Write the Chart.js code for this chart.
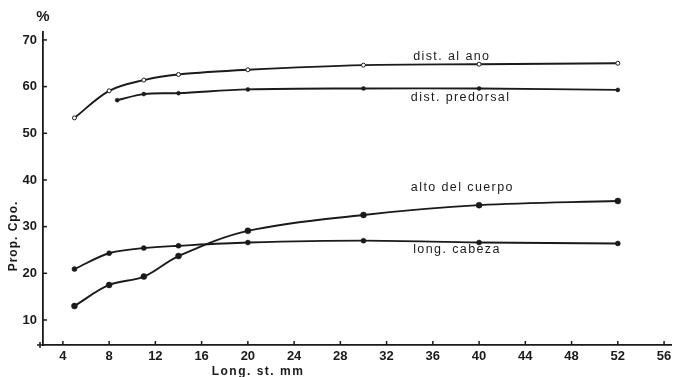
<!DOCTYPE html>
<html>
<head>
<meta charset="utf-8">
<script src="https://cdn.jsdelivr.net/npm/chart.js@4/dist/chart.umd.min.js"></script>
<style>
  html, body { margin: 0; padding: 0; background: #fff; }
  #wrap { width: 676px; height: 377px; }
</style>
</head>
<body>
<div id="wrap"><canvas id="propChart" width="676" height="377"></canvas></div>
<script>
// Longitud estandar (mm) de cada muestra
var longSt = [5, 8, 11, 14, 20, 30, 40, 52];
var longStPredorsal = [8.7, 11, 14, 20, 30, 40, 52];

// Proporciones del cuerpo (%)
var distAlAno = [53.3, 59.1, 61.4, 62.6, 63.6, 64.6, 64.8, 65.0];
var distPredorsal = [57.1, 58.4, 58.6, 59.4, 59.6, 59.6, 59.3];
var altoDelCuerpo = [13.0, 17.5, 19.3, 23.7, 29.1, 32.5, 34.6, 35.5];
var longCabeza = [20.9, 24.3, 25.4, 25.9, 26.6, 27.0, 26.6, 26.4];

var xTicks = [4, 8, 12, 16, 20, 24, 28, 32, 36, 40, 44, 48, 52, 56];
var yTicks = [10, 20, 30, 40, 50, 60, 70];

// etiquetas de las curvas: [texto, x, y] en unidades de datos
var curveLabels = [
  ['dist. al ano', 34.3, 66.4],
  ['dist. predorsal', 34.1, 57.6],
  ['alto del cuerpo', 34.1, 38.3],
  ['long. cabeza', 34.3, 25.0]
];

function toPoints(xs, ys) {
  return xs.map(function(x, i) { return { x: x, y: ys[i] }; });
}

var ink = '#1a1a1a';

function series(label, xs, ys, radius, hollow) {
  return {
    label: label,
    data: toPoints(xs, ys),
    showLine: true,
    borderColor: ink,
    borderWidth: 1.9,
    tension: 0.35,
    pointRadius: radius,
    pointBackgroundColor: hollow ? '#fff' : ink,
    pointBorderColor: ink,
    pointBorderWidth: hollow ? 1 : 0.5
  };
}

// dibuja ticks hacia adentro, textos de ejes y etiquetas de curvas
var annotations = {
  id: 'annotations',
  afterDraw: function(chart) {
    var ctx = chart.ctx;
    var xs = chart.scales.x, ys = chart.scales.y;
    var area = chart.chartArea;
    ctx.save();
    ctx.strokeStyle = ink;
    ctx.lineWidth = 1.5;
    xTicks.forEach(function(t) {
      var px = xs.getPixelForValue(t);
      ctx.beginPath();
      ctx.moveTo(px, area.bottom);
      ctx.lineTo(px, area.bottom - 4);
      ctx.stroke();
    });
    yTicks.forEach(function(t) {
      var py = ys.getPixelForValue(t);
      ctx.beginPath();
      ctx.moveTo(area.left, py);
      ctx.lineTo(area.left + 4, py);
      ctx.stroke();
    });
    // pequeña cruz a la izquierda del eje x
    ctx.beginPath();
    ctx.moveTo(area.left - 6, area.bottom);
    ctx.lineTo(area.left, area.bottom);
    ctx.moveTo(area.left - 3, area.bottom - 3);
    ctx.lineTo(area.left - 3, area.bottom + 3);
    ctx.stroke();

    ctx.fillStyle = ink;
    ctx.textBaseline = 'middle';
    ctx.textAlign = 'left';
    ctx.font = '12.5px "Liberation Sans", Arial, sans-serif';
    ctx.letterSpacing = '1.4px';
    curveLabels.forEach(function(l) {
      ctx.fillText(l[0], xs.getPixelForValue(l[1]), ys.getPixelForValue(l[2]));
    });

    ctx.font = 'bold 12px "Liberation Sans", Arial, sans-serif';
    ctx.letterSpacing = '1.5px';
    ctx.textAlign = 'center';
    ctx.fillText('Long. st. mm', 258, 372);

    ctx.letterSpacing = '0px';
    ctx.font = 'bold 15px "Liberation Sans", Arial, sans-serif';
    ctx.fillText('%', 43, 17);

    ctx.translate(14, 236);
    ctx.rotate(-Math.PI / 2);
    ctx.font = 'bold 12px "Liberation Sans", Arial, sans-serif';
    ctx.letterSpacing = '1px';
    ctx.fillText('Prop. Cpo.', 0, 0);
    ctx.restore();
  }
};

var tickFont = { family: '"Liberation Sans", Arial, sans-serif', size: 13, weight: 'bold' };

new Chart(document.getElementById('propChart').getContext('2d'), {
  type: 'scatter',
  data: {
    datasets: [
      series('dist. al ano', longSt, distAlAno, 2, true),
      series('dist. predorsal', longStPredorsal, distPredorsal, 2, false),
      series('alto del cuerpo', longSt, altoDelCuerpo, 3, false),
      series('long. cabeza', longSt, longCabeza, 2.5, false)
    ]
  },
  plugins: [annotations],
  options: {
    responsive: false,
    animation: false,
    layout: { padding: { top: 32, right: 3, left: 0, bottom: 0 } },
    plugins: { legend: { display: false }, tooltip: { enabled: false } },
    scales: {
      x: {
        type: 'linear',
        min: 2.28,
        max: 56.6,
        afterBuildTicks: function(axis) { axis.ticks = xTicks.map(function(v) { return { value: v }; }); },
        afterFit: function(axis) { axis.height = 32; },
        grid: { drawOnChartArea: false, drawTicks: false },
        border: { color: ink, width: 1.8 },
        ticks: { color: ink, font: tickFont, padding: 4, maxRotation: 0 }
      },
      y: {
        type: 'linear',
        min: 4.64,
        max: 71.7,
        afterBuildTicks: function(axis) { axis.ticks = yTicks.map(function(v) { return { value: v }; }); },
        afterFit: function(axis) { axis.width = 43; },
        grid: { drawOnChartArea: false, drawTicks: false },
        border: { color: ink, width: 1.8 },
        ticks: { color: ink, font: tickFont, padding: 6 }
      }
    }
  }
});
</script>
</body>
</html>
